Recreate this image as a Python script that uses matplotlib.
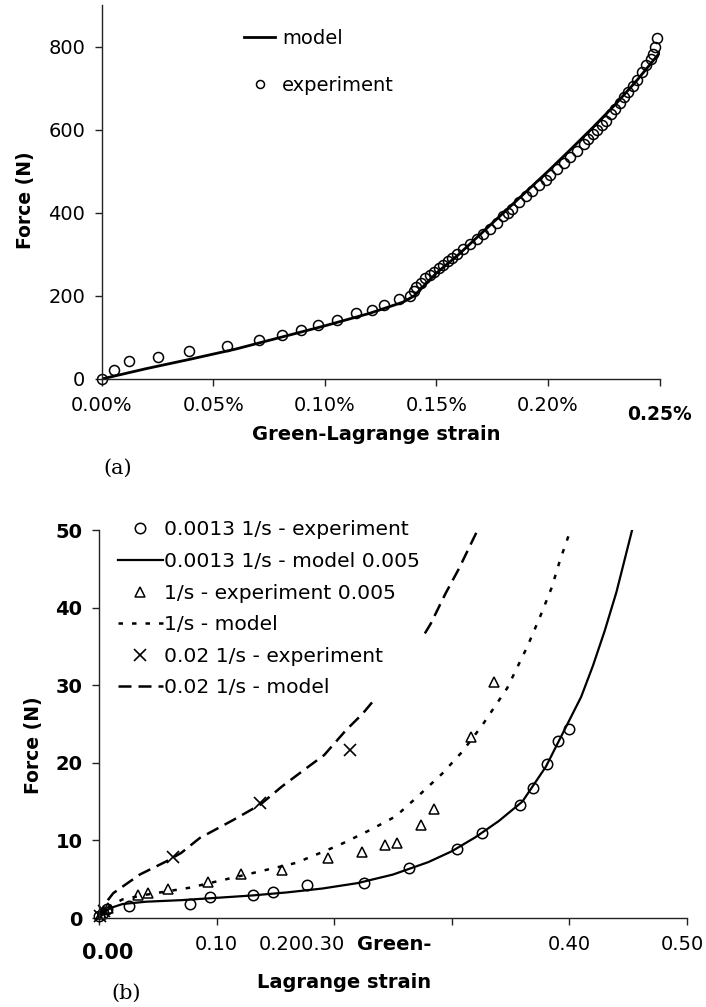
import matplotlib
matplotlib.use("Agg")
import matplotlib.pyplot as plt

# (a) quasi-static test, strain in percent
strain_exp_a = [0, 0.0055, 0.0122, 0.025, 0.039, 0.056, 0.0705, 0.081, 0.0895, 0.0967,
                0.1055, 0.114, 0.121, 0.1264, 0.133, 0.138, 0.140, 0.141, 0.143, 0.145,
                0.147, 0.149, 0.151, 0.153, 0.155, 0.157, 0.159, 0.162, 0.165, 0.168,
                0.171, 0.174, 0.177, 0.180, 0.182, 0.184, 0.187, 0.190, 0.193, 0.196,
                0.199, 0.201, 0.204, 0.207, 0.210, 0.213, 0.216, 0.218, 0.220, 0.222,
                0.224, 0.226, 0.228, 0.230, 0.232, 0.234, 0.236, 0.238, 0.240, 0.242,
                0.244, 0.246, 0.247, 0.248, 0.249]
force_exp_a = [0, 22, 43, 54, 68, 80, 94, 106, 118, 131,
               142, 158, 167, 179, 192, 200, 212, 222, 232, 242,
               250, 258, 266, 274, 285, 292, 302, 312, 324, 338,
               350, 362, 376, 392, 400, 410, 425, 440, 452, 466,
               478, 492, 505, 520, 535, 548, 565, 578, 590, 600,
               612, 622, 638, 650, 665, 678, 690, 705, 720, 738,
               755, 770, 782, 798, 820]
strain_mod_a = [0, 0.02, 0.04, 0.06, 0.08, 0.10, 0.12, 0.135, 0.14, 0.145, 0.15,
                0.16, 0.17, 0.18, 0.19, 0.20, 0.21, 0.22, 0.23, 0.24, 0.25]
force_mod_a = [0, 25, 48, 72, 100, 128, 158, 185, 200, 228, 255,
               300, 350, 400, 450, 500, 552, 605, 660, 720, 785]

# (b) three strain rates
x_exp_1 = [0.0, 0.003, 0.007, 0.0257, 0.077, 0.094, 0.131, 0.148, 0.177, 0.2254,
           0.2636, 0.3045, 0.326, 0.358, 0.369, 0.381, 0.390, 0.400]
y_exp_1 = [0.2, 0.6, 1.2, 1.6, 1.8, 2.7, 3.0, 3.4, 4.2, 4.5,
           6.4, 8.9, 11.0, 14.6, 16.8, 19.9, 22.8, 24.4]
x_mod_1 = [0, 0.005, 0.01, 0.02, 0.04, 0.07, 0.1, 0.13, 0.16, 0.19, 0.22, 0.25,
           0.28, 0.30, 0.32, 0.34, 0.36, 0.38, 0.40, 0.41, 0.42, 0.43, 0.44, 0.45, 0.455]
y_mod_1 = [0, 0.8, 1.3, 1.8, 2.1, 2.3, 2.6, 2.9, 3.3, 3.8, 4.5, 5.6,
           7.2, 8.6, 10.4, 12.5, 15.0, 19.5, 25.5, 28.5, 32.5, 37, 42, 48, 51]

x_exp_2 = [0.002, 0.008, 0.0333, 0.0418, 0.0588, 0.0927, 0.121, 0.156, 0.195, 0.224,
           0.243, 0.2537, 0.274, 0.285, 0.316, 0.3356]
y_exp_2 = [0.5, 1.3, 3.0, 3.2, 3.8, 4.7, 5.7, 6.2, 7.7, 8.5,
           9.4, 9.7, 12.0, 14.0, 23.3, 30.4]
x_mod_2 = [0, 0.01, 0.02, 0.04, 0.077, 0.131, 0.1675, 0.194, 0.207, 0.23, 0.2523,
           0.272, 0.2918, 0.3087, 0.3257, 0.347, 0.364, 0.375, 0.385, 0.392, 0.401]
y_mod_2 = [0, 1.6, 2.4, 3.0, 3.9, 5.8, 7.1, 8.75, 9.6, 11.3, 13.1,
           15.8, 18.6, 21.4, 24.8, 29.6, 34.9, 38.8, 42.6, 46.1, 50.0]

x_exp_3 = [0.001, 0.004, 0.063, 0.137, 0.2133]
y_exp_3 = [0.3, 0.9, 7.9, 14.8, 21.6]
x_mod_3 = [0, 0.005, 0.0121, 0.0347, 0.0573, 0.07, 0.0856, 0.1138, 0.137, 0.156,
           0.1816, 0.1915, 0.21, 0.224, 0.25, 0.276, 0.282, 0.2946, 0.306, 0.321]
y_mod_3 = [0, 1.8, 3.2, 5.6, 7.3, 8.4, 10.3, 12.6, 14.6, 17.0,
           19.9, 21.0, 24.2, 26.3, 31.0, 36.4, 37.9, 41.8, 45.0, 49.7]

xticks_a = [0, 0.05, 0.10, 0.15, 0.20, 0.25]
xticklabels_a = ['0.00%', '0.05%', '0.10%', '0.15%', '0.20%', '']
yticks_a = [0, 200, 400, 600, 800]
xticks_b = [0, 0.1, 0.2, 0.3, 0.4, 0.5]
xticklabels_b = ['', '0.10', '', '', '0.40', '']
yticks_b = [0, 10, 20, 30, 40, 50]

plt.rcParams['font.family'] = ['DejaVu Sans']
W, H = 706, 1007
fig = plt.figure(figsize=(W / 100, H / 100), dpi=100)


def style_axes(ax):
    for s in ['top', 'right']:
        ax.spines[s].set_visible(False)
    for s in ['left', 'bottom']:
        ax.spines[s].set_color('#222222')
        ax.spines[s].set_linewidth(1.0)
    ax.tick_params(direction='out', length=5, width=1, color='#222222',
                   labelsize=14, pad=7)


# ---------------- (a) ----------------
ax1 = fig.add_axes([101.7 / W, 1 - 379 / H, 558 / W, 374 / H])
style_axes(ax1)
ax1.plot(strain_exp_a, force_exp_a, 'o', ms=7.2, mfc='none', mec='black', mew=1.1,
         clip_on=False, label='experiment')
ax1.plot(strain_mod_a, force_mod_a, '-', color='black', lw=2, label='model')
ax1.set_xlim(0, 0.25)
ax1.set_ylim(0, 900)
ax1.set_xticks(xticks_a)
ax1.set_xticklabels(xticklabels_a)
ax1.set_yticks(yticks_a)
ax1.annotate('0.25%', xy=(0.25, -36 / 374), xycoords=('data', 'axes fraction'),
             ha='center', va='center', fontsize=13.5, fontweight='bold')
ax1.set_xlabel('Green-Lagrange strain', fontsize=14, fontweight='bold', va='center')
ax1.xaxis.set_label_coords(0.4916, -56 / 374)
ax1.set_ylabel('Force (N)', fontsize=13.5, fontweight='bold', va='center')
ax1.yaxis.set_label_coords(-0.137, 0.479)
ax1.text(0.0073, -89 / 374, '(a)', transform=ax1.get_xaxis_transform(),
         ha='center', va='center', fontsize=15, family='DejaVu Serif')
h = ax1.get_legend_handles_labels()[0]
ax1.legend([h[1], h[0]], ['model', 'experiment'], loc='upper left',
           bbox_to_anchor=(0.255, 0.936), frameon=False, borderpad=0,
           borderaxespad=0, handlelength=1.6, handletextpad=0.36,
           labelspacing=1.45, fontsize=14, markerscale=0.8)

# ---------------- (b) ----------------
ax2 = fig.add_axes([99 / W, 1 - 918 / H, 588 / W, 388 / H])
style_axes(ax2)
ax2.plot(x_exp_1, y_exp_1, 'o', ms=7.5, mfc='none', mec='black', mew=1.1,
         clip_on=False, label='0.0013 1/s - experiment')
ax2.plot(x_mod_1, y_mod_1, '-', color='black', lw=1.6,
         label='0.0013 1/s - model 0.005')
ax2.plot(x_exp_2, y_exp_2, '^', ms=7.5, mfc='none', mec='black', mew=1.1,
         clip_on=False, label='1/s - experiment 0.005')
ax2.plot(x_mod_2, y_mod_2, color='black', lw=1.8, dashes=(1.8, 3.6),
         label='1/s - model')
ax2.plot(x_exp_3, y_exp_3, 'x', ms=8, mec='black', mew=1.2,
         clip_on=False, label='0.02 1/s - experiment')
ax2.plot(x_mod_3, y_mod_3, color='black', lw=1.8, dashes=(5.2, 2.8),
         label='0.02 1/s - model')
ax2.set_xlim(0, 0.5)
ax2.set_ylim(0, 50)
ax2.set_xticks(xticks_b)
ax2.set_xticklabels(xticklabels_b)
ax2.set_yticks(yticks_b)
for lab in ax2.get_yticklabels():
    lab.set_fontweight('bold')

xt = ax2.get_xaxis_transform()
ax2.text(0.0076, -35 / 388, '0.00', transform=xt, ha='center', va='center',
         fontsize=15, fontweight='bold')
ax2.text(0.1356, -27 / 388, '0.200.30', transform=xt, ha='left', va='center',
         fontsize=14)
ax2.text(0.2195, -27 / 388, 'Green-', transform=xt, ha='left', va='center',
         fontsize=14, fontweight='bold')
ax2.text(0.496, -27 / 388, '0.50', transform=xt, ha='center', va='center',
         fontsize=14)
ax2.text(0.2085, -64 / 388, 'Lagrange strain', transform=xt, ha='center',
         va='center', fontsize=14, fontweight='bold')
ax2.text(0.0229, -75 / 388, '(b)', transform=xt, ha='center', va='center',
         fontsize=15, family='DejaVu Serif')
ax2.set_ylabel('Force (N)', fontsize=13.5, fontweight='bold', va='center')
ax2.yaxis.set_label_coords(-0.112, 0.446)

leg = ax2.legend(loc='upper left', bbox_to_anchor=(0.0256, 1.035), frameon=True,
                 facecolor='white', edgecolor='none', framealpha=1, fancybox=False,
                 borderpad=0.2, borderaxespad=0, handlelength=2.2,
                 handletextpad=0.05, labelspacing=0.62, fontsize=14.6)

fig.savefig('out.png', dpi=100, facecolor='white')
